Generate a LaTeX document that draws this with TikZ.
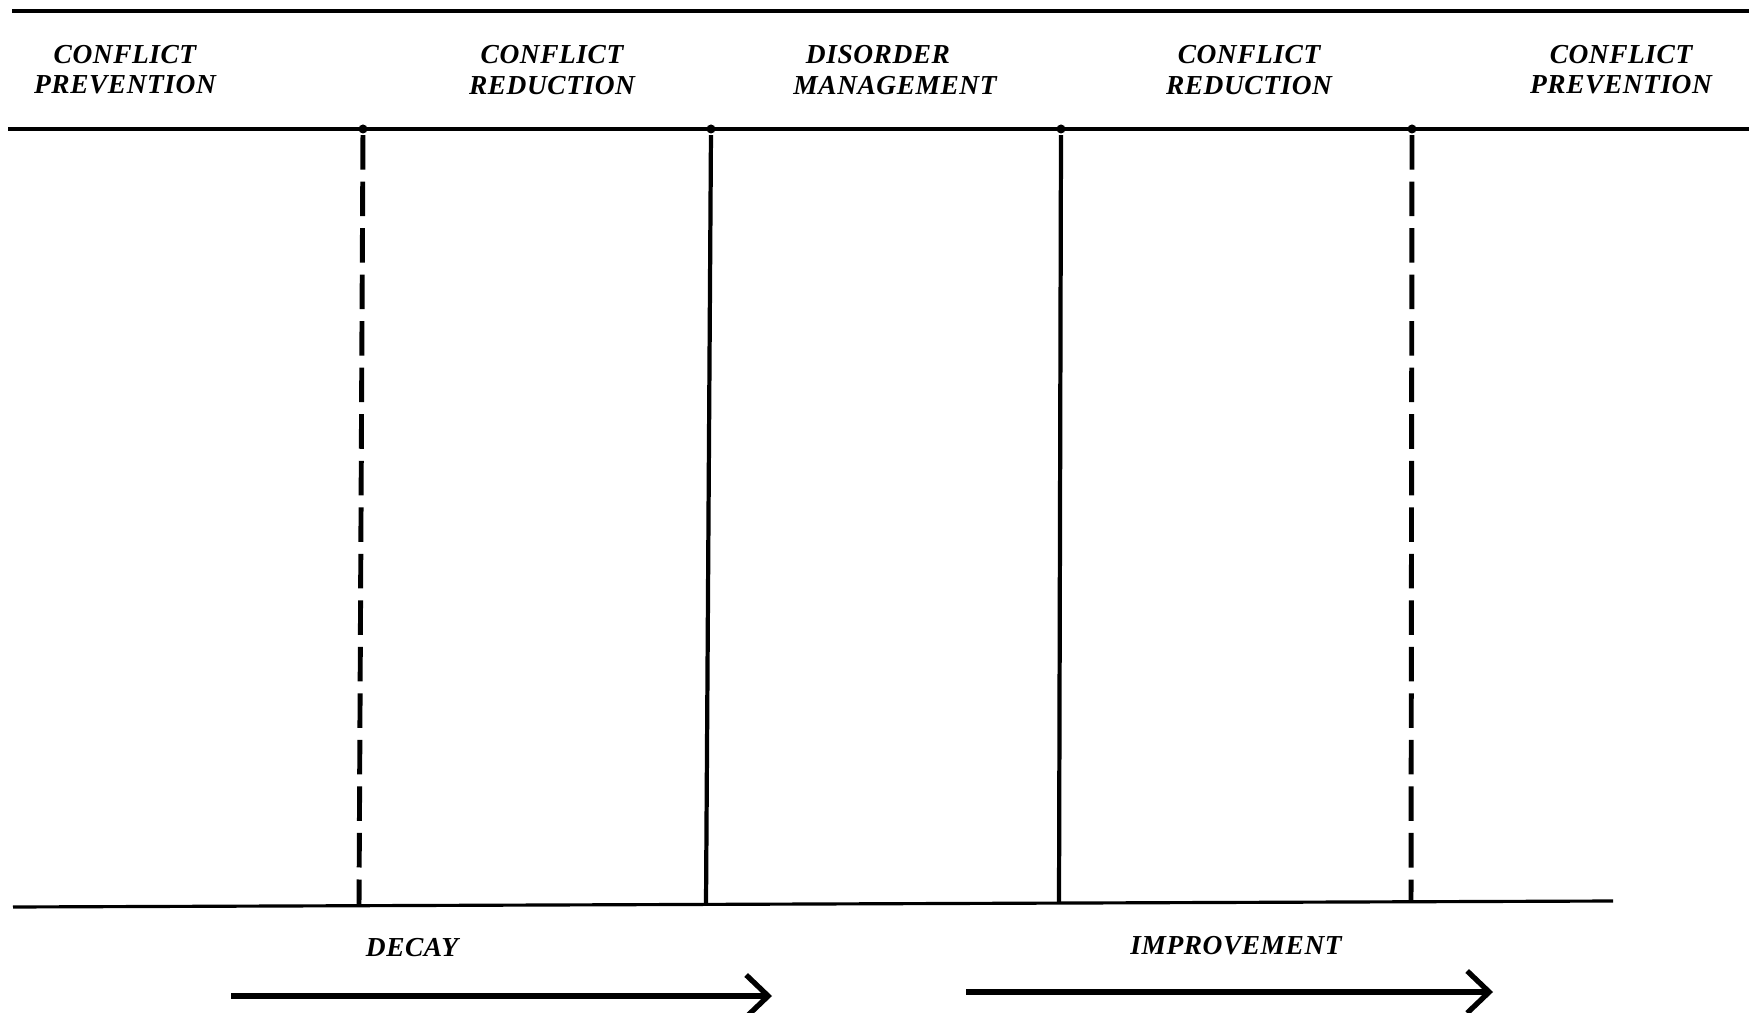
\documentclass[tikz,border=0pt]{standalone}
\usepackage{fontspec}
\newfontfamily\labelfont[LetterSpace=2]{Liberation Serif}
\usetikzlibrary{arrows.meta}

\begin{document}
\begin{tikzpicture}[x=0.01cm, y=-0.01cm, line width=0.9pt,
  main node/.style={circle, fill, inner sep=0, minimum size=0.09cm},
  label/.style={font=\labelfont\bfseries\itshape\fontsize{7.8}{8.6}\selectfont, align=center, inner sep=0},
  dashline/.style={dash pattern=on 0.345cm off 0.12cm, line width=1.4pt},
  solid line/.style={line width=1.2pt},
  arrow/.style={-{Straight Barb[length=0.22cm,width=0.42cm]}, line width=1.5pt}]
\useasboundingbox (0,0) rectangle (1749,1013);
\coordinate (tl) at (12,11);
\coordinate (tr) at (1749,11);
\coordinate (ml) at (8,129);
\coordinate (mr) at (1749,129);
\coordinate (bl) at (13,907);
\coordinate (br) at (1613,901);
\node[main node] (1) at (363,129) {};
\node[main node] (2) at (711,129) {};
\node[main node] (3) at (1061,129) {};
\node[main node] (4) at (1412,129) {};
\coordinate (1b) at (359,906);
\coordinate (2b) at (706,904);
\coordinate (3b) at (1059,903);
\coordinate (4b) at (1411,902);
\node[label] (p1) at (125,70) {CONFLICT\\PREVENTION};
\node[label] (r1) at (552,70) {CONFLICT\\REDUCTION};
\node[label] (dm) at (895,70) {DISORDER\kern0.34cm\\MANAGEMENT};
\node[label] (r2) at (1249,70) {CONFLICT\\REDUCTION};
\node[label] (p2) at (1621,70) {CONFLICT\\PREVENTION};
\node[label] (decay) at (412,948) {DECAY};
\node[label] (impr) at (1236,946) {IMPROVEMENT};
\coordinate (d1) at (231,996);
\coordinate (d2) at (772,996);
\coordinate (i1) at (966,992);
\coordinate (i2) at (1493,992);
\path
(tl) edge (tr)
(ml) edge (mr)
(bl) edge (br)
(1) edge[dashline] (1b)
(2) edge[solid line] (2b)
(3) edge[solid line] (3b)
(4) edge[dashline] (4b)
(d1) edge[arrow] (d2)
(i1) edge[arrow] (i2);
\end{tikzpicture}
\end{document}
